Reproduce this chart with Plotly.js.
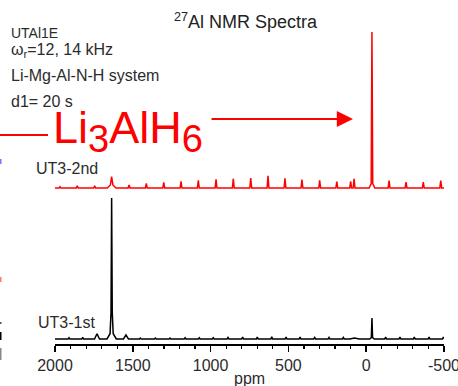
<!DOCTYPE html>
<html>
<head>
<meta charset="utf-8">
<script src="https://cdn.plot.ly/plotly-3.0.1.min.js"></script>
<style>html,body{margin:0;padding:0;background:#fff;}#chart{width:458px;height:386px;}</style>
</head>
<body>
<div id="chart"></div>
<script>
// ---- data (ppm, intensity in arbitrary units, half base width in ppm) ----
const redPeakPpm    = [1968, 1857, 1745, 1636, 1636, 1524, 1413, 1301, 1190, 1079, 965, 854, 742, 631, 522, 413, 299, 189, 100, 78, -37, -37, -147, -256, -367, -479];
const redPeakHeight = [1.3, 2.3, 2.3, 7, 4.3, 3, 4.7, 5.7, 6.7, 7.7, 8.7, 9.3, 10, 12.3, 9.7, 8.3, 7.7, 6.3, 6.7, 9.3, 150, 6, 7.3, 6, 6, 7.3];
const redPeakWidth  = [6, 6, 6, 8, 28, 6, 6, 6, 6, 6, 6, 6, 6, 6, 6, 6, 6, 6, 6, 6, 5, 18, 6, 6, 6, 6];

const blackPeakPpm    = [1910, 1822, 1730, 1636, 1636, 1636, 1544, 1452, 1355, 1261, 1164, 1073, 983, 888, 794, 700, 607, 515, 425, 331, 239, 147, 75, -37, -37, -125, -217, -309, -404, -496];
const blackPeakHeight = [1.3, 1.7, 5.3, 100, 33, 8, 4, 1, 1, 1, 1.2, 1.2, 1.2, 1.5, 2, 2, 2.3, 1.8, 1.8, 1.5, 1.5, 1.5, 1, 19, 2, 1.8, 1.8, 1.8, 1.8, 1.8];
const blackPeakWidth  = [6, 6, 16, 4, 10, 30, 16, 6, 6, 6, 6, 6, 6, 6, 6, 6, 6, 6, 6, 6, 6, 6, 30, 4, 15, 6, 6, 6, 6, 6];

const seriesNames = ['UT3-2nd', 'UT3-1st'];
const tickValues = [2000, 1500, 1000, 500, 0, -500];
const tickLabels = ['2000', '1500', '1000', '500', '0', '-500'];
const ppmRange = [2000, -500];

// vertical offsets for the stacked display
const redOffset = 156, blackOffset = 5;

function buildSpectrum(pos, h, w, offset) {
  let bps = [ppmRange[0], ppmRange[1]];
  for (let i = 0; i < pos.length; i++) bps.push(pos[i] - w[i], pos[i], pos[i] + w[i]);
  bps = Array.from(new Set(bps)).filter(v => v <= 2000 && v >= -500).sort((a, b) => b - a);
  const ys = bps.map(x => {
    let s = 0;
    for (let i = 0; i < pos.length; i++) {
      const d = Math.abs(x - pos[i]);
      if (d < w[i]) s += h[i] * (1 - d / w[i]);
    }
    return s + offset;
  });
  return {x: bps, y: ys};
}

const red = buildSpectrum(redPeakPpm, redPeakHeight, redPeakWidth, redOffset);
const black = buildSpectrum(blackPeakPpm, blackPeakHeight, blackPeakWidth, blackOffset);

const traces = [
  {x: red.x, y: red.y, mode: 'lines', name: seriesNames[0], line: {color: '#ff0000', width: 1.5}, hoverinfo: 'skip'},
  {x: black.x, y: black.y, mode: 'lines', name: seriesNames[1], line: {color: '#000000', width: 1.5}, hoverinfo: 'skip'}
];

const L = 55, R = 444, B = 344;
const X = px => (px - L) / (R - L);
const Y = py => (B - py) / B;
const FONT = 'Arial, "Liberation Sans", sans-serif';
const TXT = '#2b2b2b';

function txt(text, px, py, size, color, xanchor) {
  return {text: text, x: X(px), y: Y(py), xref: 'paper', yref: 'paper', showarrow: false,
          xanchor: xanchor || 'left', yanchor: 'middle', borderpad: 0,
          font: {family: FONT, size: size, color: color || TXT}};
}

const annotations = [
  txt('UTAl1E', 10, 33, 14),
  txt('ω<sub>r</sub>=12, 14 kHz', 10, 50, 16),
  txt('Li-Mg-Al-N-H system', 10, 76, 16),
  txt('d1= 20 s', 10, 102, 16),
  txt('Li<sub><span style="font-size:38px">3</span></sub>AlH<sub><span style="font-size:38px">6</span></sub>', 52, 131, 45, '#ff0000'),
  txt(seriesNames[0], 35, 168, 16),
  txt(seriesNames[1], 37, 322, 16),
  txt('ppm', 249, 378, 16, TXT, 'center'),
  {x: X(353), y: Y(119), xref: 'paper', yref: 'paper', text: '', showarrow: true,
   ax: -143, ay: 0, arrowhead: 2, arrowwidth: 1.8, arrowsize: 1.8, arrowcolor: '#ff0000', standoff: 0}
];

const shapes = [
  {type: 'line', xref: 'paper', yref: 'paper', x0: X(0), x1: X(48), y0: Y(135), y1: Y(135), line: {color: '#ff0000', width: 1.8}},
  {type: 'rect', xref: 'paper', yref: 'paper', x0: X(0), x1: X(1.5), y0: Y(159), y1: Y(164), line: {width: 0}, fillcolor: '#7777ff'},
  {type: 'rect', xref: 'paper', yref: 'paper', x0: X(0), x1: X(1.5), y0: Y(277), y1: Y(282), line: {width: 0}, fillcolor: '#ff7777'},
  {type: 'rect', xref: 'paper', yref: 'paper', x0: X(0), x1: X(1.5), y0: Y(322), y1: Y(324), line: {width: 0}, fillcolor: '#555555'},
  {type: 'rect', xref: 'paper', yref: 'paper', x0: X(0), x1: X(1.5), y0: Y(332), y1: Y(340), line: {width: 0}, fillcolor: '#000000'},
  {type: 'rect', xref: 'paper', yref: 'paper', x0: X(0), x1: X(1.5), y0: Y(348), y1: Y(360), line: {width: 0}, fillcolor: '#888888'}
];

const layout = {
  width: 458, height: 386,
  margin: {l: L, r: 458 - R, t: 0, b: 386 - B, pad: 0},
  paper_bgcolor: '#ffffff', plot_bgcolor: '#ffffff',
  showlegend: false,
  font: {family: FONT, color: TXT},
  title: {text: '<sup>27</sup>Al NMR Spectra', font: {family: FONT, size: 18, color: '#222222'},
          xref: 'container', yref: 'container', x: 245.5 / 458, y: 1 - 22 / 386, xanchor: 'center', yanchor: 'middle'},
  xaxis: {range: ppmRange, autorange: false, showgrid: false, zeroline: false,
          showline: true, linecolor: '#000000', linewidth: 2,
          tickmode: 'array', tickvals: tickValues, ticktext: tickLabels,
          ticks: 'outside', ticklen: 6, tickwidth: 1.5, tickcolor: '#000000',
          ticklabeloverflow: 'allow',
          tickfont: {family: FONT, size: 16, color: TXT},
          minor: {tickmode: 'linear', tick0: 0, dtick: 100, ticks: 'outside', ticklen: 3, tickwidth: 1.2, tickcolor: '#000000'}},
  yaxis: {range: [0, B], autorange: false, visible: false, fixedrange: true},
  annotations: annotations,
  shapes: shapes
};

Plotly.newPlot('chart', traces, layout, {staticPlot: true, displayModeBar: false});
</script>
</body>
</html>
